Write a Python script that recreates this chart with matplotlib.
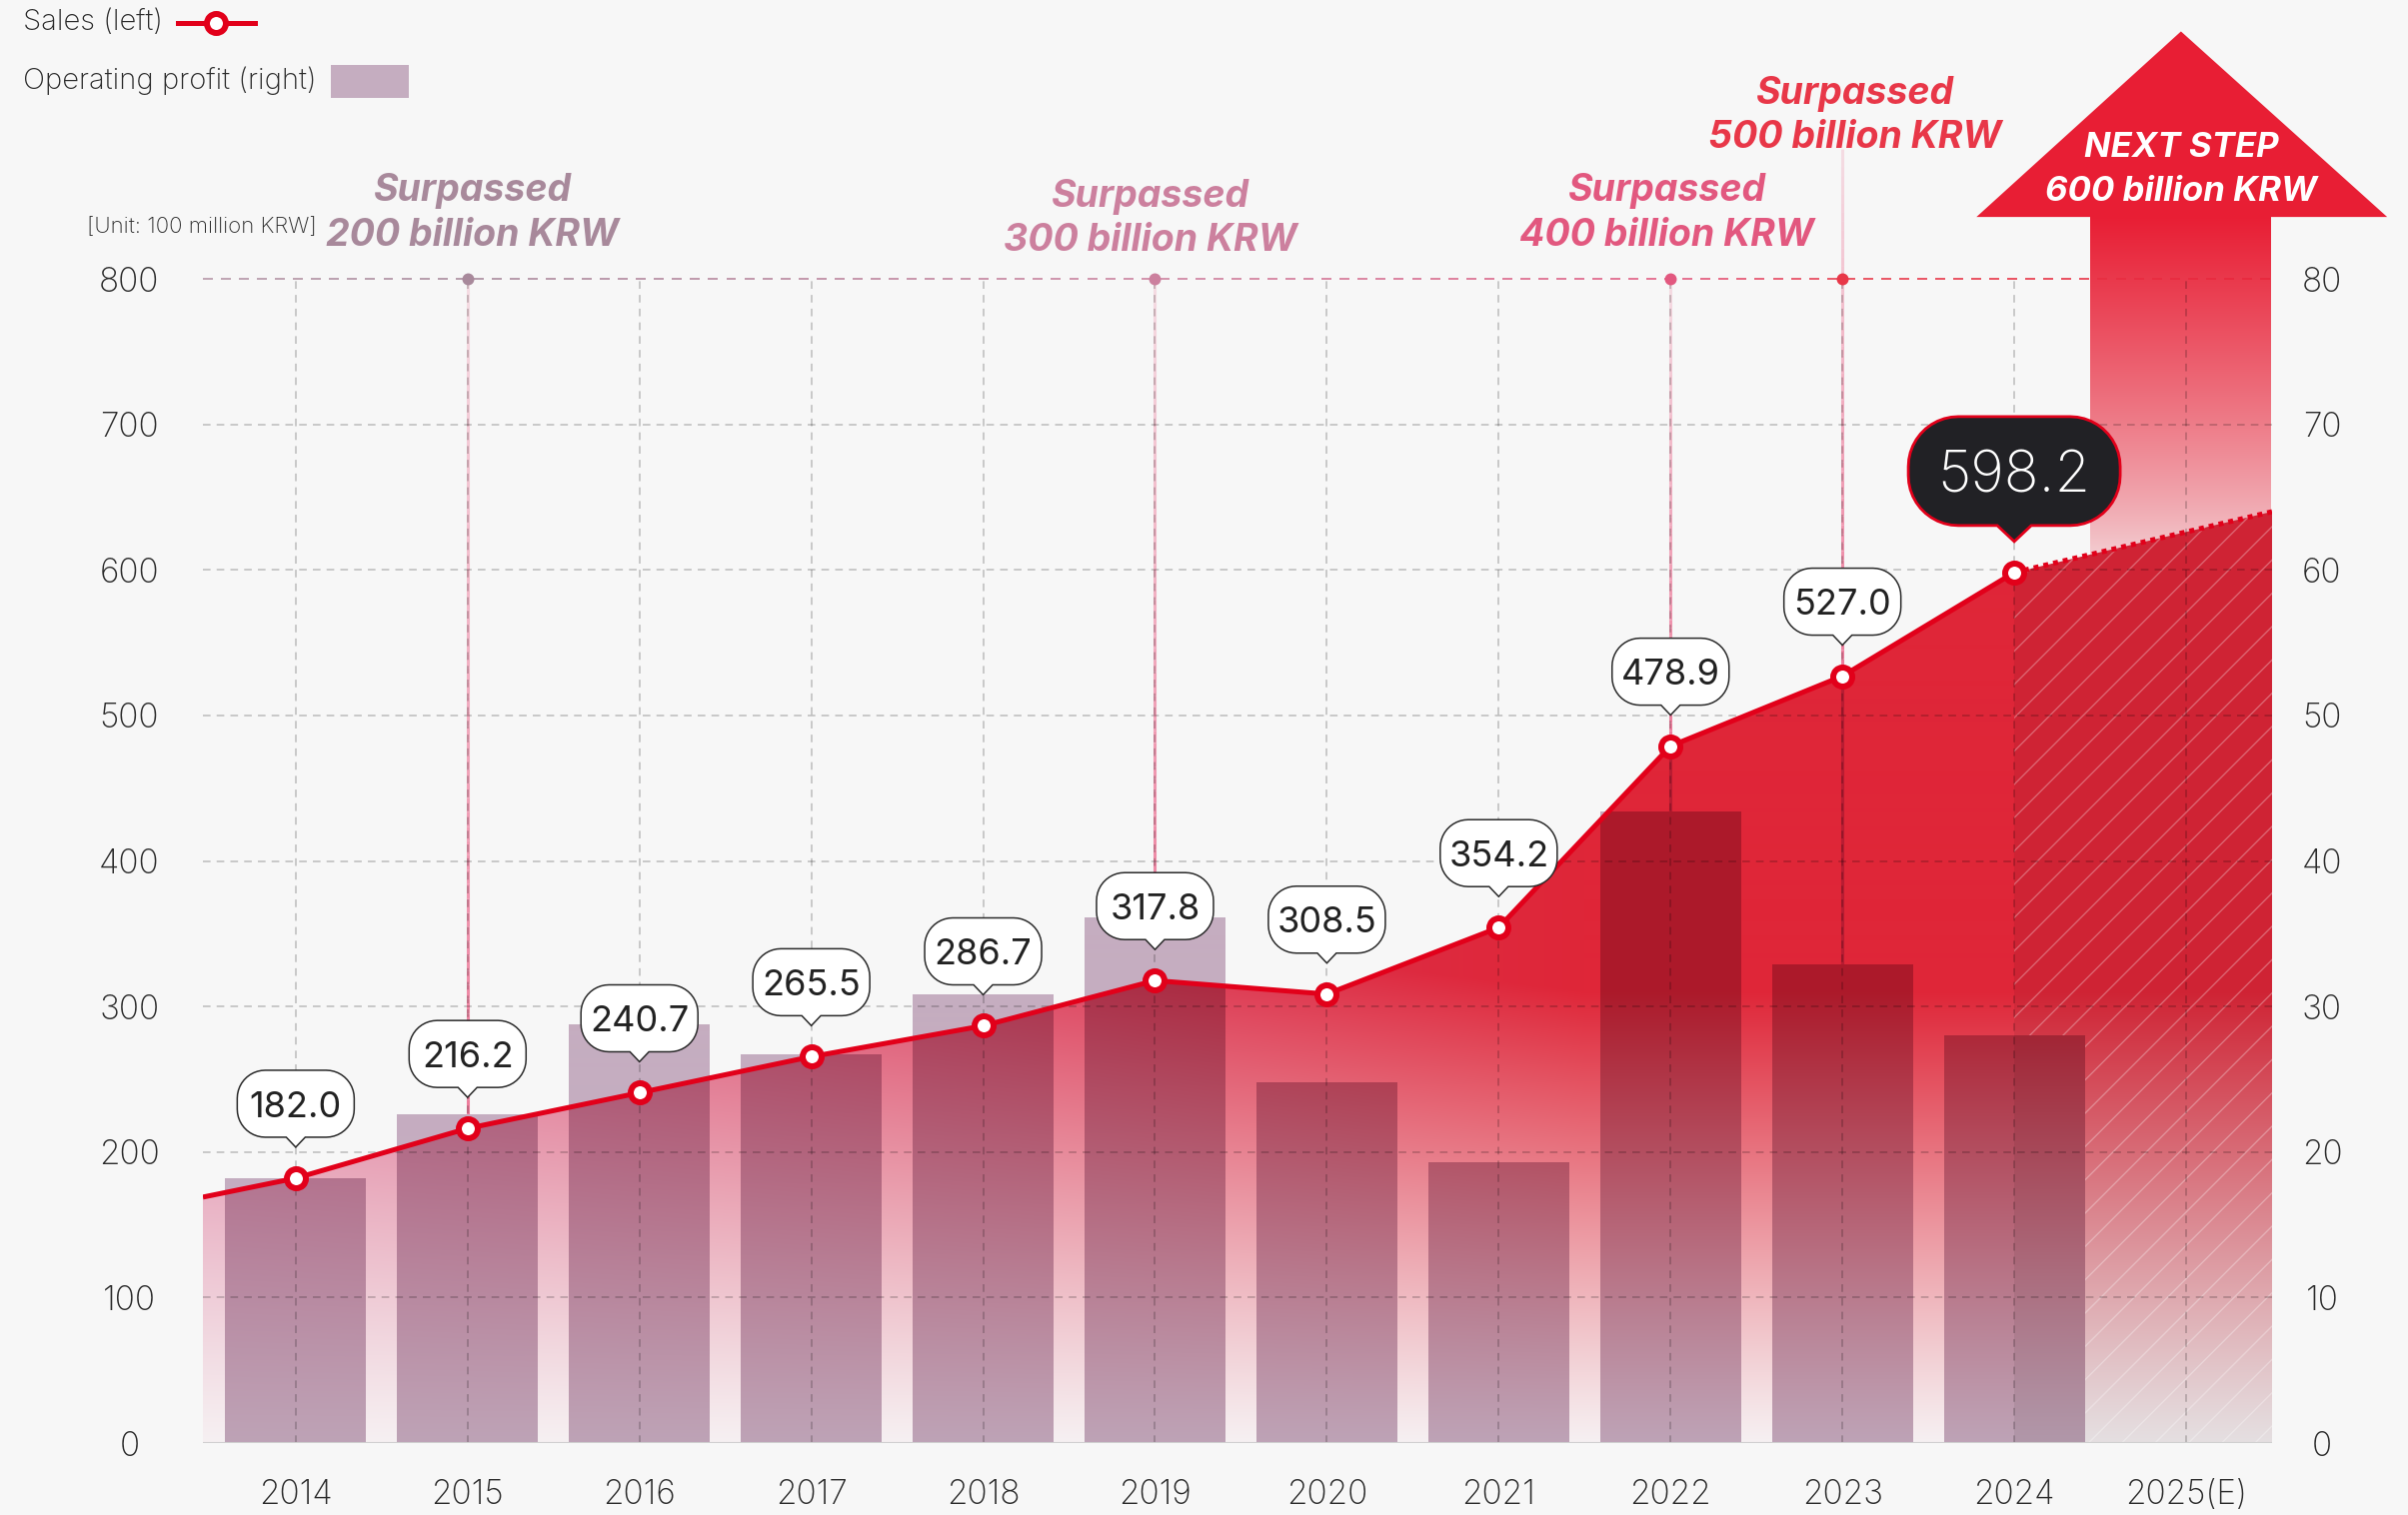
import numpy as np
import matplotlib.pyplot as plt
from matplotlib.path import Path
from matplotlib.patches import Polygon, Rectangle
from matplotlib.collections import LineCollection
from matplotlib.lines import Line2D
from matplotlib.colors import to_rgb

# ---- data (unit: 100 million KRW / operating profit on right axis) ----
years = ['2014', '2015', '2016', '2017', '2018', '2019', '2020',
         '2021', '2022', '2023', '2024', '2025(E)']
sales = [182.0, 216.2, 240.7, 265.5, 286.7, 317.8, 308.5, 354.2, 478.9, 527.0, 598.2]
profit = [18.2, 22.6, 28.8, 26.7, 30.8, 36.1, 24.8, 19.3, 43.4, 32.9, 28.0]
sales_left_edge = 169.0    # line keeps going to the left edge
sales_2025_edge = 640.0    # estimate, right edge
milestone_idx = [1, 5, 8, 9]
milestone_text = ['Surpassed\n200 billion KRW', 'Surpassed\n300 billion KRW',
                  'Surpassed\n400 billion KRW', 'Surpassed\n500 billion KRW']
milestone_colors = ['#a8899b', '#cc809e', '#e2587f', '#e83748']

PROFIT_SCALE = 10  # left units per right-axis unit

# ---- style ----
BG = '#f7f7f7'
RED = '#e2001a'
BAR = np.array([197, 173, 192]) / 255
plt.rcParams['font.family'] = ['Inter', 'DejaVu Sans']

fig = plt.figure(figsize=(24.09, 15.16), dpi=100, facecolor=BG)
ax = fig.add_axes([0.08427, 0.04749, 0.85927, 0.76847])
ax.set_facecolor('none')
x0, x1 = -0.54, 11.5
ax.set_xlim(x0, x1)
ax.set_ylim(0, 800)

xi = np.arange(len(sales))
x_ext = np.concatenate([[x0], xi, [x1]])
y_ext = np.concatenate([[sales_left_edge], sales, [sales_2025_edge]])

# ---- gradient colours of the red area ----
ny, nx = 1165, 2070
gx = np.linspace(x0, x1, nx)
gy = np.linspace(0, 800, ny)
X, Y = np.meshgrid(gx, gy)
s = np.clip((X + 0.5) / 8, 0, 1)
V = 420 - 110 * s
t = np.clip(Y / V, 0, 1) ** 1.1
red_l = np.array([212, 72, 118]) / 255
red_r = np.array([223, 38, 56]) / 255
white = np.array([246, 240, 242]) / 255
red = red_l * (1 - s[..., None]) + red_r * s[..., None]
area = white * (1 - t[..., None]) + red * t[..., None]
area[X >= len(sales) - 1] *= 0.93

# arrow (stem + head) behind the area
stem_y = np.linspace(560, 843, 300)
ts = np.clip((stem_y - 610) / (843 - 610), 0, 1) ** 0.8
top_c = np.array([232, 30, 52]) / 255
low_c = np.array([243, 208, 212]) / 255
stem = (low_c * (1 - ts[:, None]) + top_c * ts[:, None])[:, None, :]
im_stem = ax.imshow(stem, extent=(10.44, 11.49, 560, 843), origin='lower',
                    aspect='auto', zorder=1.5, interpolation='bilinear')
im_stem.set_clip_on(False)
head = Polygon([(9.78, 842.5), (10.97, 970), (12.17, 842.5)], closed=True,
               fc='#e81e34', ec='none', zorder=1.5, clip_on=False)
ax.add_patch(head)
ax.text(10.97, 875, 'NEXT STEP\n600 billion KRW', ha='center', va='center',
        color='white', fontsize=25, fontweight='bold', fontstyle='italic',
        linespacing=1.5, zorder=2, clip_on=False)

# area under sales line
fill = ax.fill_between(x_ext, y_ext, 0, facecolor='none', edgecolor='none')
im_area = ax.imshow(area, extent=(x0, x1, 0, 800), origin='lower', aspect='auto',
                    zorder=2, interpolation='bilinear')
im_area.set_clip_path(fill.get_paths()[0], ax.transData)

# hatch over the estimate part
est_x = [len(sales) - 1, x1]
est_y = [sales[-1], sales_2025_edge]
ax.fill_between(est_x, est_y, 0, facecolor='none', edgecolor=(1, 1, 1, 0.3),
                linewidth=0, hatch='/', zorder=2.2)

# milestone vertical lines
for k, i in enumerate(milestone_idx):
    top = 889 if k == 3 else 800
    ys = np.linspace(top, sales[i], 60)
    segs = [[(i, ys[j]), (i, ys[j + 1])] for j in range(len(ys) - 1)]
    al = np.linspace(0.2, 0.9, len(segs))
    cols = [(236 / 255, 110 / 255, 145 / 255, a) for a in al]
    ax.add_collection(LineCollection(segs, colors=cols, linewidths=2.2,
                                     zorder=2.6, clip_on=False))
    ax.plot([i, i], [sales[i], 0], color='#b81c32', lw=2.2, zorder=2.6)
    ax.plot(i, 800, 'o', ms=8.6, color=milestone_colors[k], mew=0, zorder=5,
            clip_on=False)

# bars (right axis values) with multiply blend on the area
bars = ax.bar(xi, np.array(profit) * PROFIT_SCALE, width=0.82,
              color=BAR, zorder=3)
inside = Y < np.interp(X, x_ext, y_ext)
blend = np.where(inside[..., None], area * BAR, BAR)
bar_path = Path.make_compound_path(
    *[b.get_path().transformed(b.get_patch_transform()) for b in bars])
im_bar = ax.imshow(blend, extent=(x0, x1, 0, 800), origin='lower', aspect='auto',
                   zorder=3.1, interpolation='bilinear')
im_bar.set_clip_path(bar_path, ax.transData)

# grid
grid_kw = dict(color='black', alpha=0.24, lw=1.1, ls=(0, (5, 4)), zorder=4)
for y in range(100, 800, 100):
    ax.axhline(y, **grid_kw)
for i in range(len(years)):
    ax.plot([i, i], [0, 800], **grid_kw)
ax.axhline(0, color='#cfcfcf', lw=1.5, zorder=4)

# 800 line with colour running from mauve to red
stops_x = [x0, 1, 5, 8, 9, x1]
stops_c = np.array([to_rgb(c) for c in ['#b595a6', '#a8899b', '#cc809e',
                                        '#e2587f', '#e83748', '#e8263c']])
dx = np.arange(x0, x1, 0.105)
segs = [[(d, 800), (min(d + 0.058, x1), 800)] for d in dx]
cols = np.stack([np.interp(dx, stops_x, stops_c[:, c]) for c in range(3)], axis=1)
ax.add_collection(LineCollection(segs, colors=cols, linewidths=1.3, alpha=0.9,
                                 zorder=4, clip_on=False))

# sales line
ax.plot(x_ext[:-1], y_ext[:-1], color=RED, lw=3.6, zorder=6,
        solid_capstyle='butt')
ax.plot(est_x, est_y, color=RED, lw=3.6, ls=(0, (1, 1)), zorder=6,
        dash_capstyle='butt')
mk = dict(marker='o', ms=13.7, mfc='white', mec=RED, mew=4.3)
ax.plot(xi, sales, ls='none', zorder=7, **mk)


# value bubbles: pill box with a pointer, sizes in pixels
def bubble_style(W, H, r, hw, ph, lift):
    def style(bx, by, bw, bh, mutation_size):
        cx = bx + bw / 2
        cy = by + bh / 2 + lift
        X0, X1 = cx - W / 2, cx + W / 2
        Y0, Y1 = cy - H / 2, cy + H / 2
        a = np.linspace(0, np.pi / 2, 12)
        pts = [(cx + hw, Y0), (X1 - r, Y0)]
        pts += [(X1 - r + r * np.sin(q), Y0 + r - r * np.cos(q)) for q in a]
        pts += [(X1 - r + r * np.cos(q), Y1 - r + r * np.sin(q)) for q in a]
        pts += [(X0 + r - r * np.sin(q), Y1 - r + r * np.cos(q)) for q in a]
        pts += [(X0 + r - r * np.cos(q), Y0 + r - r * np.sin(q)) for q in a]
        pts += [(cx - hw, Y0), (cx, Y0 - ph), (cx + hw, Y0)]
        codes = [Path.MOVETO] + [Path.LINETO] * (len(pts) - 2) + [Path.CLOSEPOLY]
        return Path(pts, codes)
    return style


for i, v in enumerate(sales):
    if i == len(sales) - 1:
        fs, W, H, r, hw, ph = 41.5, 212, 109, 50, 17, 16
        lift = 0.1 * fs / 0.72
        ax.annotate(f'{v:.1f}', (i, v),
                    xytext=(0, 31 + ph + H / 2 - lift), textcoords='offset pixels',
                    ha='center', va='center', fontsize=fs, color='white',
                    fontweight='light', zorder=9,
                    bbox=dict(boxstyle=bubble_style(W, H, r, hw, ph, lift),
                              fc='#212125', ec=RED, lw=2.0))
    else:
        fs, W, H, r, hw, ph = 26, 117, 67, 28, 9.5, 10
        lift = 0.1 * fs / 0.72
        ax.annotate(f'{v:.1f}', (i, v),
                    xytext=(0, 31 + ph + H / 2 - lift), textcoords='offset pixels',
                    ha='center', va='center', fontsize=fs, color='#222222',
                    zorder=9,
                    bbox=dict(boxstyle=bubble_style(W, H, r, hw, ph, lift),
                              fc='white', ec='#2b2b2b', lw=1.1))

# milestone labels
lab_pos = [(1.03, 845), (4.97, 841), (7.98, 845), (9.07, 912)]
for (lx, ly), txt, c in zip(lab_pos, milestone_text, milestone_colors):
    ax.text(lx, ly, txt, ha='center', va='center', color=c, fontsize=27,
            fontweight='bold', fontstyle='italic', linespacing=1.3,
            zorder=5, clip_on=False)

# axes
ax.set_xticks(range(len(years)))
ax.set_xticklabels(years)
ax.set_yticks(range(0, 801, 100))
ax.tick_params(axis='both', length=0, labelsize=24, labelcolor='#2a2a2a')
ax.tick_params(axis='x', pad=26)
ax.tick_params(axis='y', pad=53)
for lab in ax.get_yticklabels():
    lab.set_ha('center')
for sp in ax.spines.values():
    sp.set_visible(False)
sec = ax.secondary_yaxis('right', functions=(lambda y: y / PROFIT_SCALE,
                                             lambda y: y * PROFIT_SCALE))
sec.set_yticks(range(0, 81, 10))
sec.tick_params(length=0, labelsize=24, labelcolor='#2a2a2a', pad=36)
for lab in sec.get_yticklabels():
    lab.set_ha('center')
sec.spines['right'].set_visible(False)
for lab in ax.get_xticklabels() + ax.get_yticklabels() + sec.get_yticklabels():
    lab.set_fontweight('light')

ax.text(0.12, 836, '[Unit: 100 million KRW]', ha='right', va='center',
        fontsize=16, color='#2a2a2a', fontweight='light', clip_on=False)

# legend drawn by hand
fig.text(23 / 2409, 1 - 23 / 1516, 'Sales (left)', ha='left', va='center',
         fontsize=21, color='#2a2a2a', fontweight='light')
fig.add_artist(Line2D([178 / 2409, 255 / 2409], [1 - 23 / 1516] * 2,
                      color=RED, lw=3.6))
fig.add_artist(Line2D([216.5 / 2409], [1 - 23 / 1516], **mk))
fig.text(23 / 2409, 1 - 81 / 1516, 'Operating profit (right)', ha='left',
         va='center', fontsize=21, color='#2a2a2a', fontweight='light')
fig.add_artist(Rectangle((331 / 2409, 1 - 98 / 1516), 78 / 2409, 33 / 1516,
                         transform=fig.transFigure, fc=BAR, ec='none'))

fig.savefig('out.png', dpi=100, facecolor=BG)
